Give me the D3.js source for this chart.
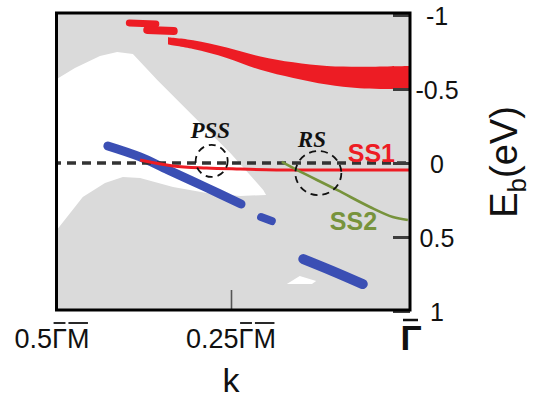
<!DOCTYPE html>
<html>
<head>
<meta charset="utf-8">
<script src="https://cdn.jsdelivr.net/npm/d3@7"></script>
<style>
  html, body { margin: 0; padding: 0; background: #fff; }
  svg { display: block; }
</style>
</head>
<body>
<svg id="chart" width="533" height="398"></svg>
<script>
// k in units of Γ̄M̄ (0 = Γ̄), binding energy E_b in eV (negative = above E_F)

// Bulk band (red): upper and lower edges of the thick band
const bandK      = [0.338, 0.303, 0.256, 0.209, 0.163, 0.116, 0.070, 0.0];
const bandTop    = [-0.85, -0.83, -0.78, -0.72, -0.68, -0.655, -0.65, -0.655];
const bandBottom = [-0.80, -0.77, -0.71, -0.63, -0.575, -0.53, -0.505, -0.50];

// Short red fragments at the left end of the band
const bandFragA = [[0.392, -0.946], [0.355, -0.939]];
const bandFragB = [[0.367, -0.899], [0.330, -0.892]];

// Blue bulk-derived states
const blueA = [[0.422, -0.115], [0.377, -0.041], [0.338, 0.047], [0.286, 0.162], [0.236, 0.277]];
const blueB = [[0.208, 0.365], [0.193, 0.392]];
const blueC = [[0.149, 0.649], [0.108, 0.730], [0.066, 0.818]];

// Surface states
const ss1 = [[0.377, -0.020], [0.331, 0.020], [0.284, 0.034], [0.237, 0.041], [0.186, 0.047], [0.0, 0.047]];
const ss2 = [[0.179, -0.007], [0.158, 0.047], [0.102, 0.182], [0.056, 0.297], [0.024, 0.365], [0.003, 0.385]];

// Gaps (white) in the projected bulk continuum
const gapMain = [
  [0.500, -0.547], [0.468, -0.642], [0.433, -0.723], [0.409, -0.750], [0.387, -0.736],
  [0.353, -0.561], [0.307, -0.338], [0.251, -0.068], [0.205, 0.182], [0.201, 0.216],
  [0.237, 0.223], [0.284, 0.203], [0.331, 0.162], [0.377, 0.101], [0.401, 0.095],
  [0.426, 0.135], [0.457, 0.230], [0.500, 0.493]
];
const gapSmall = [[0.172, 0.818], [0.154, 0.764], [0.131, 0.797], [0.137, 0.818]];

// Axis ticks and labels
const yTicks = [-1, -0.5, 0, 0.5, 1];
const yTickLabels = ["-1", "-0.5", "0", "0.5", "1"];
const xLabelK = [0.5, 0.25];
const xLabelNums = ["0.5", "0.25"];
const xInnerTicks = [0.25];

// Annotated crossings
const markerNames = ["PSS", "RS"];
const markerK = [0.277, 0.128];
const markerE = [-0.014, 0.068];
const markerLabelK = [0.279, 0.137];
const markerLabelE = [-0.169, -0.108];

// State labels
const stateNames = ["SS1", "SS2"];
const stateK = [0.054, 0.079];
const stateE = [-0.005, 0.453];

// ---- layout ----
const frame = { x0: 56.5, x1: 410, y0: 13, y1: 310 };
const x = d3.scaleLinear().domain([0.5, 0]).range([52, 410]);
const y = d3.scaleLinear().domain([-1, 1]).range([15, 311]);

const colors = {
  bulk: "#dadada", gap: "#ffffff", red: "#ed1c24", blue: "#3b4fb4",
  green: "#77933c", dash: "#333333", tick: "#3c3c3c"
};
const sans = "'Liberation Sans', Arial, sans-serif";
const serif = "'Liberation Serif', 'Times New Roman', serif";

const svg = d3.select("#chart");
const defs = svg.append("defs");
defs.append("clipPath").attr("id", "plot-clip")
  .append("rect")
  .attr("x", frame.x0).attr("y", frame.y0)
  .attr("width", frame.x1 - frame.x0).attr("height", frame.y1 - frame.y0);

const plot = svg.append("g").attr("clip-path", "url(#plot-clip)");

// background continuum
plot.append("rect")
  .attr("x", frame.x0).attr("y", frame.y0)
  .attr("width", frame.x1 - frame.x0).attr("height", frame.y1 - frame.y0)
  .attr("fill", colors.bulk);

const poly = d3.line().x(d => x(d[0])).y(d => y(d[1]));
plot.append("path").attr("d", poly.curve(d3.curveLinearClosed)(gapMain)).attr("fill", colors.gap);
plot.append("path").attr("d", poly.curve(d3.curveLinearClosed)(gapSmall)).attr("fill", colors.gap);

// red bulk band
const bandData = bandK.map((k, i) => ({ k, top: bandTop[i], bot: bandBottom[i] }));
plot.append("path")
  .attr("d", d3.area()
    .x(d => x(d.k)).y0(d => y(d.top)).y1(d => y(d.bot))
    .curve(d3.curveCatmullRom)(bandData))
  .attr("fill", colors.red);

const smooth = d3.line().x(d => x(d[0])).y(d => y(d[1])).curve(d3.curveCatmullRom);
[[bandFragA, 7], [bandFragB, 8]].forEach(([pts, w]) => {
  plot.append("path").attr("d", smooth(pts))
    .attr("fill", "none").attr("stroke", colors.red)
    .attr("stroke-width", w).attr("stroke-linecap", "round");
});

// blue states
[[blueA, 9], [blueB, 8], [blueC, 10]].forEach(([pts, w]) => {
  plot.append("path").attr("d", smooth(pts))
    .attr("fill", "none").attr("stroke", colors.blue)
    .attr("stroke-width", w).attr("stroke-linecap", "round");
});

// Fermi level
plot.append("line")
  .attr("x1", x(0.5)).attr("x2", x(0)).attr("y1", y(0)).attr("y2", y(0))
  .attr("stroke", colors.dash).attr("stroke-width", 3.5)
  .attr("stroke-dasharray", "9,6");

// surface states
plot.append("path").attr("d", smooth(ss1))
  .attr("fill", "none").attr("stroke", colors.red).attr("stroke-width", 3);
plot.append("path").attr("d", smooth(ss2))
  .attr("fill", "none").attr("stroke", colors.green).attr("stroke-width", 2.6);

// axis ticks on the right, pointing into the plot
const yAxis = d3.axisRight(y)
  .tickValues(yTicks)
  .tickSize(-17)
  .tickPadding(27)
  .tickFormat((d, i) => yTickLabels[i]);
const yAxisG = svg.append("g").attr("transform", `translate(${frame.x1},0)`).call(yAxis);
yAxisG.select(".domain").remove();
yAxisG.selectAll(".tick line").attr("stroke", colors.tick).attr("stroke-width", 3);
yAxisG.selectAll(".tick text")
  .attr("text-anchor", "middle")
  .attr("dy", "0.36em")
  .attr("fill", "#111")
  .style("font-family", sans).style("font-size", "25px");

// inner tick at 0.25 Γ̄M̄
const xAxis = d3.axisBottom(x).tickValues(xInnerTicks).tickSize(-19).tickFormat("");
const xAxisG = svg.append("g").attr("transform", `translate(0,${frame.y1 - 1})`).call(xAxis);
xAxisG.select(".domain").remove();
xAxisG.selectAll(".tick line").attr("stroke", "#555").attr("stroke-width", 1.6);

// frame
svg.append("rect")
  .attr("x", frame.x0).attr("y", frame.y0)
  .attr("width", frame.x1 - frame.x0).attr("height", frame.y1 - frame.y0)
  .attr("fill", "none").attr("stroke", "#000").attr("stroke-width", 3);

// dashed circles marking crossings
markerNames.forEach((name, i) => {
  const big = name === "RS";
  svg.append("ellipse")
    .attr("cx", x(markerK[i])).attr("cy", y(markerE[i]))
    .attr("rx", big ? 23 : 16).attr("ry", big ? 22 : 16)
    .attr("fill", "none").attr("stroke", "#111")
    .attr("stroke-width", 1.8).attr("stroke-dasharray", "7,5");
  svg.append("text")
    .attr("x", x(markerLabelK[i])).attr("y", y(markerLabelE[i]))
    .attr("text-anchor", "middle")
    .style("font-family", serif).style("font-size", "23px")
    .style("font-weight", "bold").style("font-style", "italic")
    .attr("fill", "#111")
    .text(name);
});

// surface state labels
stateNames.forEach((name, i) => {
  svg.append("text")
    .attr("x", x(stateK[i])).attr("y", y(stateE[i]))
    .attr("text-anchor", "middle")
    .style("font-family", sans).style("font-size", "25px").style("font-weight", "bold")
    .attr("fill", i === 0 ? colors.red : colors.green)
    .text(name);
});

// k-axis labels with overlined Γ and M
xLabelK.forEach((k, i) => {
  const num = xLabelNums[i];
  const t = svg.append("text")
    .attr("x", x(k)).attr("y", 348)
    .attr("text-anchor", "middle")
    .style("font-family", sans).style("font-size", "27px")
    .attr("fill", "#111")
    .text(num + "ΓM");
  const node = t.node();
  const n = num.length;
  [n, n + 1].forEach(ci => {
    const s = node.getStartPositionOfChar(ci).x;
    const e = node.getEndPositionOfChar(ci).x;
    svg.append("line")
      .attr("x1", s + 1.5).attr("x2", e - 1.5)
      .attr("y1", 323).attr("y2", 323)
      .attr("stroke", "#111").attr("stroke-width", 1.8);
  });
});

// Γ̄ at k = 0
svg.append("text")
  .attr("x", x(0) + 1).attr("y", 350)
  .attr("text-anchor", "middle")
  .style("font-family", sans).style("font-size", "35px").style("font-weight", "bold")
  .attr("fill", "#111")
  .text("Γ");
svg.append("line")
  .attr("x1", x(0) - 7).attr("x2", x(0) + 8)
  .attr("y1", 320).attr("y2", 320)
  .attr("stroke", "#111").attr("stroke-width", 2.5);

// axis titles
svg.append("text")
  .attr("x", 231).attr("y", 392)
  .attr("text-anchor", "middle")
  .style("font-family", sans).style("font-size", "34px")
  .attr("fill", "#111")
  .text("k");

const yTitle = svg.append("text")
  .attr("transform", "translate(517,162) rotate(-90)")
  .attr("text-anchor", "middle")
  .style("font-family", sans).style("font-size", "38px")
  .attr("fill", "#111");
yTitle.append("tspan").text("E");
yTitle.append("tspan").attr("dy", 9).style("font-size", "26px").text("b");
yTitle.append("tspan").attr("dy", -9).text("(eV)");
</script>
</body>
</html>
